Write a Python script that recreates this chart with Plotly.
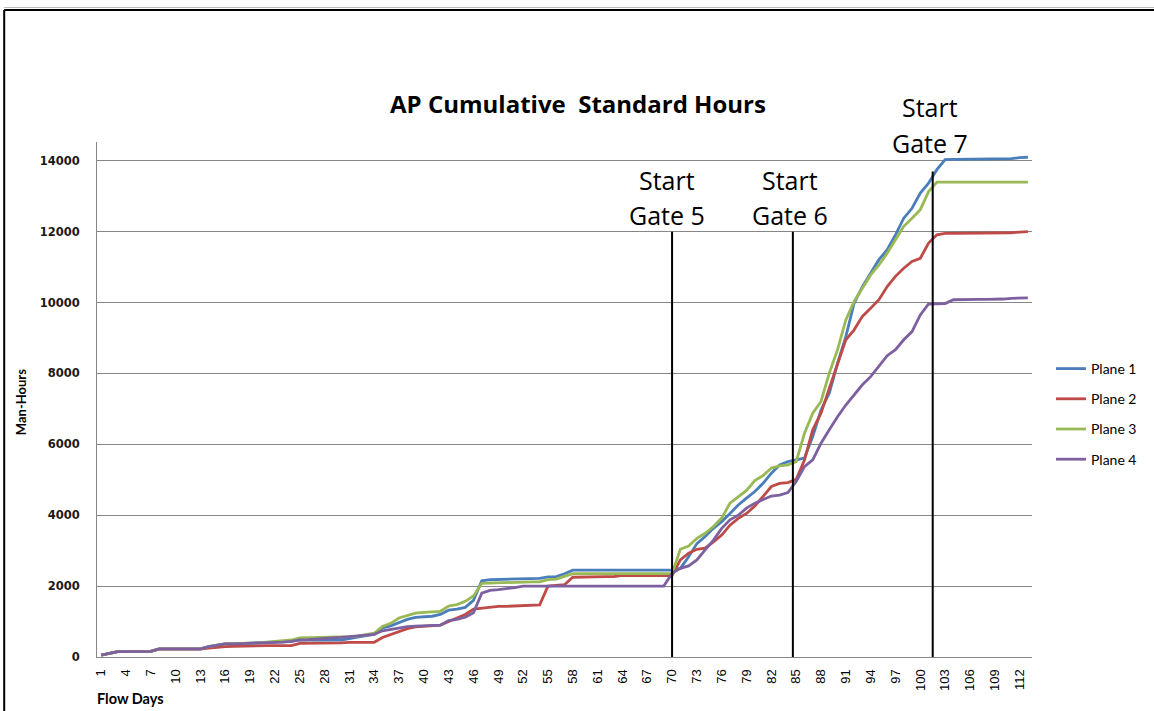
import plotly.graph_objects as go

days = list(range(1, 114))

plane1 = [50, 90, 150, 150, 150, 150, 160, 230, 230, 230,
          230, 230, 230, 290, 340, 370, 370, 375, 380, 390,
          410, 420, 430, 440, 480, 480, 480, 470, 470, 480,
          520, 570, 600, 640, 820, 880, 980, 1060, 1120, 1140,
          1150, 1200, 1320, 1350, 1400, 1600, 2150, 2180, 2190, 2190,
          2200, 2210, 2220, 2220, 2260, 2270, 2350, 2450, 2450, 2450,
          2450, 2450, 2450, 2450, 2450, 2450, 2450, 2450, 2450, 2450,
          2500, 2830, 3200, 3400, 3630, 3820, 4050, 4290, 4480, 4670,
          4900, 5185, 5420, 5510, 5560, 5610, 6220, 6970, 7440, 8290,
          9040, 9980, 10450, 10830, 11210, 11490, 11910, 12380, 12660, 13090,
          13370, 13750, 14030, 14040, 14040, 14040, 14040, 14040, 14050, 14060,
          14060, 14090, 14100]

plane2 = [50, 90, 150, 150, 150, 150, 160, 220, 220, 220,
          220, 220, 220, 250, 280, 290, 300, 310, 320, 320,
          320, 320, 320, 320, 385, 385, 385, 385, 390, 400,
          415, 415, 415, 415, 550, 640, 720, 800, 850, 870,
          880, 900, 1000, 1100, 1200, 1350, 1380, 1400, 1430, 1430,
          1440, 1460, 1470, 1470, 2000, 2010, 2040, 2250, 2260, 2270,
          2270, 2270, 2270, 2300, 2300, 2300, 2300, 2300, 2300, 2300,
          2740, 2930, 3040, 3070, 3250, 3440, 3720, 3910, 4050, 4260,
          4530, 4810, 4900, 4920, 5010, 5560, 6410, 6880, 7580, 8290,
          8950, 9230, 9610, 9840, 10080, 10450, 10740, 10970, 11160, 11250,
          11680, 11910, 11950, 11950, 11950, 11950, 11950, 11950, 11950, 11950,
          11970, 11990, 12000]

plane3 = [50, 90, 150, 150, 150, 150, 160, 230, 230, 230,
          230, 230, 230, 290, 340, 380, 380, 380, 390, 400,
          420, 440, 460, 480, 540, 545, 545, 545, 550, 560,
          575, 590, 620, 670, 860, 950, 1100, 1180, 1240, 1260,
          1270, 1290, 1440, 1480, 1570, 1720, 2080, 2090, 2090, 2100,
          2110, 2120, 2120, 2120, 2180, 2200, 2280, 2350, 2350, 2350,
          2350, 2350, 2350, 2350, 2350, 2350, 2350, 2350, 2350, 2350,
          3040, 3130, 3350, 3490, 3680, 3920, 4340, 4510, 4700, 4980,
          5120, 5330, 5390, 5420, 5510, 6310, 6880, 7210, 8010, 8670,
          9510, 10030, 10410, 10780, 11060, 11390, 11770, 12150, 12380, 12620,
          13130, 13400, 13400, 13400, 13400, 13400, 13400, 13400, 13400, 13400,
          13400, 13400, 13400]

plane4 = [50, 90, 150, 150, 150, 150, 160, 230, 230, 230,
          230, 230, 230, 290, 340, 370, 370, 375, 380, 390,
          400, 410, 420, 440, 480, 490, 500, 525, 540, 555,
          575, 590, 610, 640, 740, 780, 820, 860, 870, 880,
          890, 900, 1030, 1060, 1120, 1250, 1800, 1880, 1900, 1920,
          1960, 2000, 2000, 2000, 2000, 2000, 2000, 2000, 2000, 2000,
          2000, 2000, 2000, 2000, 2000, 2000, 2000, 2000, 2000, 2360,
          2500, 2570, 2740, 3020, 3300, 3630, 3870, 4000, 4200, 4340,
          4450, 4540, 4570, 4640, 4950, 5370, 5560, 6030, 6410, 6780,
          7110, 7400, 7680, 7910, 8200, 8500, 8670, 8950, 9180, 9650,
          9960, 9960, 9970, 10080, 10090, 10090, 10090, 10090, 10090, 10100,
          10120, 10130, 10130]

series_names = ["Plane 1", "Plane 2", "Plane 3", "Plane 4"]
series_colors = ["#4A7EBB", "#BE4B48", "#98B954", "#7D60A0"]

tick_days = list(range(1, 113, 3))
tick_labels = [str(d) for d in tick_days]
y_ticks = [0, 2000, 4000, 6000, 8000, 10000, 12000, 14000]
y_tick_labels = [str(v) for v in y_ticks]

gate_days = [70, 84.6, 101.5]
gate_tops = [12000, 12000, 13700]
gate_labels = ["Gate 5", "Gate 6", "Gate 7"]

fig = go.Figure()
for name, vals, col in zip(series_names, [plane1, plane2, plane3, plane4], series_colors):
    fig.add_trace(go.Scatter(x=days, y=vals, mode="lines", name=name,
                             legendgroup=name,
                             line=dict(color=col, width=2.8)))

# gate lines
for gd, gt in zip(gate_days, gate_tops):
    fig.add_shape(type="line", xref="x", yref="y", x0=gd, x1=gd, y0=0, y1=gt,
                  line=dict(color="black", width=2))

# gate labels
label_pos = [(668, 180, 215), (791, 180, 215), (932, 107, 143)]
for (px, y1p, y2p), gl in zip(label_pos, gate_labels):
    for txt, py in (("Start", y1p), (gl, y2p)):
        fig.add_annotation(xref="paper", yref="paper",
                           x=(px - 97) / 937, y=(657 - py) / 515,
                           text=txt, showarrow=False, xanchor="center", yanchor="middle",
                           font=dict(family="Open Sans", size=25, color="black"))

# axis titles
fig.add_annotation(xref="paper", yref="paper", x=(21 - 97) / 937, y=(657 - 402) / 515,
                   text="<b>Man-Hours</b>", textangle=-90, showarrow=False,
                   xanchor="center", yanchor="middle",
                   font=dict(family="Lato", size=13, color="black"))
fig.add_annotation(xref="paper", yref="paper", x=(95 - 97) / 937, y=(657 - 698) / 515,
                   text="<b>Flow Days</b>", showarrow=False,
                   xanchor="left", yanchor="middle",
                   font=dict(family="Lato", size=14.5, color="black"))

# frame border
xl = (4 - 97) / 937
yt = (657 - 10) / 515
fig.add_shape(type="line", xref="paper", yref="paper", x0=xl, x1=1.2, y0=yt, y1=yt,
              line=dict(color="black", width=2))
fig.add_shape(type="line", xref="paper", yref="paper", x0=xl, x1=xl, y0=-0.2, y1=yt,
              line=dict(color="black", width=2))
fig.add_shape(type="line", xref="paper", yref="paper", x0=xl, x1=1.2,
              y0=(657 - 7.5) / 515, y1=(657 - 7.5) / 515,
              line=dict(color="#BBBBBB", width=1))

fig.update_layout(
    width=1154, height=711,
    margin=dict(l=97, r=120, t=142, b=54),
    paper_bgcolor="white", plot_bgcolor="white",
    title=dict(text="<b>AP Cumulative  Standard Hours</b>", x=578 / 1154, xref="container",
               y=1 - 105 / 711, yref="container", xanchor="center", yanchor="middle",
               font=dict(family="Open Sans", size=24, color="black")),
    legend=dict(x=(1053 - 97) / 937, y=(657 - 353) / 515, xanchor="left", yanchor="top",
                font=dict(family="Lato", size=14, color="black"),
                tracegroupgap=9, bgcolor="rgba(0,0,0,0)"),
    showlegend=True,
)
fig.update_xaxes(range=[0.5, 113.5], tickmode="array", tickvals=tick_days, ticktext=tick_labels,
                 tickangle=-90, showgrid=False, showline=True, linecolor="#868686", linewidth=1,
                 zeroline=False, ticks="", ticklabelstandoff=6,
                 tickfont=dict(family="Liberation Sans", size=13, color="black"))
fig.update_yaxes(range=[0, 14530], tickmode="array", tickvals=y_ticks, ticktext=y_tick_labels,
                 showgrid=True, gridcolor="#868686", gridwidth=1,
                 showline=True, linecolor="#868686", linewidth=1, zeroline=False,
                 ticks="", ticklabelstandoff=14,
                 tickfont=dict(family="DejaVu Sans", size=11.5, color="#1a1a1a", weight="bold"))

fig.write_html("out.html", config={"displayModeBar": False},
               post_script="document.body.style.margin='0px';")
